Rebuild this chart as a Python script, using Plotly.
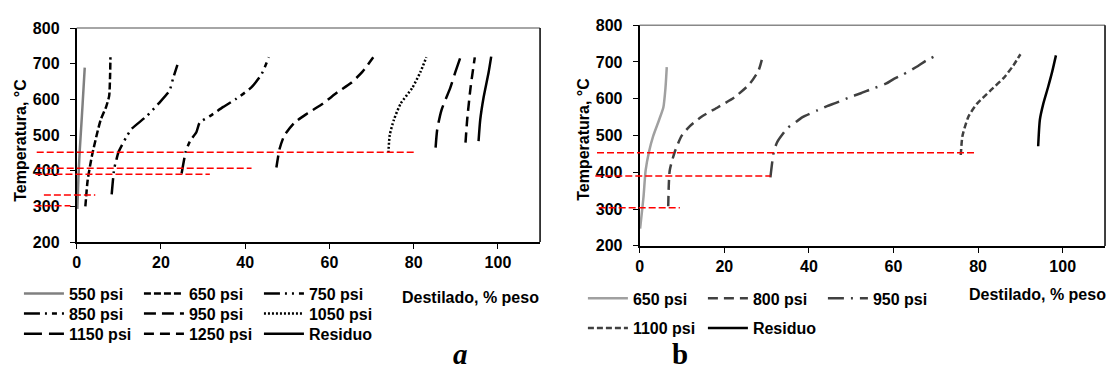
import plotly.graph_objects as go

# ---------------- data: panel a ----------------
a550_x = [0.15, 0.4, 0.7, 1.05, 1.4, 1.9]
a550_T = [293, 380, 454, 520, 588, 689]
a650_x = [2.05, 2.6, 3.6, 4.8, 5.7, 7.0, 7.7, 7.9, 8.0]
a650_T = [300, 374, 441, 503, 543, 580, 610, 660, 718]
a750_x = [8.3, 8.9, 9.4, 9.9, 11.9, 13.0, 16.6, 19.4, 22.0, 22.9, 23.9]
a750_T = [334, 406, 430, 452, 497, 517, 553, 588, 624, 660, 697]
a850_x = [24.9, 25.9, 26.9, 28.4, 29.2, 31.6, 34.8, 37.9, 41.4, 43.8, 45.6]
a850_T = [392, 454, 483, 508, 535, 553, 579, 602, 633, 669, 718]
a950_x = [47.4, 48.2, 49.3, 51.7, 54.8, 58.4, 61.9, 65.1, 67.8, 70.4]
a950_T = [409, 463, 499, 535, 561, 588, 620, 646, 677, 718]
a1050_x = [74.0, 74.3, 75.3, 76.9, 79.7, 81.6, 83.0]
a1050_T = [450, 499, 543, 588, 633, 677, 718]
a1150_x = [85.2, 85.6, 86.6, 88.7, 89.9, 91.1]
a1150_T = [465, 517, 570, 633, 677, 718]
a1250_x = [92.3, 92.7, 93.5, 94.5]
a1250_T = [479, 543, 633, 718]
aRes_x = [95.4, 95.8, 96.6, 97.8, 98.4]
aRes_T = [483, 543, 606, 677, 720]

# red reference lines, panel a (temperature, start %, end %)
refA_T = [452, 407, 390, 332, 302]
refA_x0 = [-9.5, -9.5, -9.8, -7.8, -10.0]
refA_x1 = [80.0, 41.5, 31.6, 4.4, -1.5]

# ---------------- data: panel b ----------------
b650_x = [0.1, 0.9, 1.4, 2.2, 3.2, 4.6, 5.6, 6.1, 6.4]
b650_T = [247, 333, 405, 456, 499, 543, 577, 630, 686]
b800_x = [6.75, 7.1, 8.3, 9.9, 11.8, 14.6, 18.5, 22.4, 25.9, 28.1, 29.2]
b800_T = [308, 405, 456, 499, 525, 551, 577, 604, 639, 677, 721]
b950_x = [30.9, 31.7, 32.5, 35.0, 36.6, 38.5, 42.1, 44.3, 46.4, 50.1, 52.3,
          54.5, 58.2, 60.1, 62.3, 65.8, 67.6, 69.8]
b950_T = [386, 456, 482, 521, 534, 550, 569, 580, 589, 606, 615,
          625, 641, 654, 666, 689, 703, 716]
b1100_x = [75.9, 76.3, 77.7, 79.7, 82.8, 86.0, 88.3, 90.0]
b1100_T = [447, 499, 551, 586, 621, 656, 690, 721]
bRes_x = [94.2, 94.6, 95.4, 96.5, 97.5, 98.4]
bRes_T = [471, 543, 586, 630, 673, 718]

refB_T = [453, 390, 303.5]
refB_x0 = [-10.1, -10.5, -9.7]
refB_x1 = [79.1, 30.9, 9.5]

x_ticks = [0, 20, 40, 60, 80, 100]
y_ticks = [200, 300, 400, 500, 600, 700, 800]
X_RANGE = [0, 110]
Y_RANGE = [200, 800]

W, H = 1109, 381
FONT = "Liberation Sans, Arial, sans-serif"
FS = 16

domA_x = [73 / W, 538 / W]
domA_y = [(H - 245) / H, (H - 21) / H]
domB_x = [638 / W, 1105 / W]
domB_y = [(H - 249) / H, (H - 18) / H]

fig = go.Figure()

seriesA = [
    ("550 psi", a550_x, a550_T, "#808080", "solid", "legend"),
    ("650 psi", a650_x, a650_T, "black", "7px,3px", "legend"),
    ("750 psi", a750_x, a750_T, "black", "16px,5px,2px,5px,2px,5px", "legend"),
    ("850 psi", a850_x, a850_T, "black", "16px,5px,2px,5px,5px,5px", "legend2"),
    ("950 psi", a950_x, a950_T, "black", "12px,6px", "legend2"),
    ("1050 psi", a1050_x, a1050_T, "black", "2px,2px", "legend2"),
    ("1150 psi", a1150_x, a1150_T, "black", "18px,7px", "legend3"),
    ("1250 psi", a1250_x, a1250_T, "black", "10px,6px", "legend3"),
    ("Residuo", aRes_x, aRes_T, "black", "solid", "legend3"),
]
for name, xs, ys, col, dash, lg in seriesA:
    fig.add_trace(go.Scatter(x=xs, y=ys, name=name, mode="lines",
                             line=dict(color=col, width=2.5, dash=dash, shape="spline", smoothing=0.6),
                             xaxis="x", yaxis="y", legend=lg))

seriesB = [
    ("650 psi", b650_x, b650_T, "#a0a0a0", "solid", "legend4"),
    ("800 psi", b800_x, b800_T, "#404040", "10px,6px", "legend4"),
    ("950 psi", b950_x, b950_T, "#404040", "16px,7px,2px,7px", "legend4"),
    ("1100 psi", b1100_x, b1100_T, "#404040", "6px,3px", "legend5"),
    ("Residuo", bRes_x, bRes_T, "black", "solid", "legend5"),
]
for name, xs, ys, col, dash, lg in seriesB:
    fig.add_trace(go.Scatter(x=xs, y=ys, name=name, mode="lines",
                             line=dict(color=col, width=2.5, dash=dash, shape="spline", smoothing=0.6),
                             xaxis="x2", yaxis="y2", legend=lg))


def xpaper(v, dom):
    return dom[0] + (v - X_RANGE[0]) / (X_RANGE[1] - X_RANGE[0]) * (dom[1] - dom[0])


shapes = []
for T, x0, x1 in zip(refA_T, refA_x0, refA_x1):
    shapes.append(dict(type="line", xref="paper", yref="y", x0=xpaper(x0, domA_x), x1=xpaper(x1, domA_x),
                       y0=T, y1=T, line=dict(color="red", width=1.5, dash="7px,3px")))
for T, x0, x1 in zip(refB_T, refB_x0, refB_x1):
    shapes.append(dict(type="line", xref="paper", yref="y2", x0=xpaper(x0, domB_x), x1=xpaper(x1, domB_x),
                       y0=T, y1=T, line=dict(color="red", width=1.5, dash="7px,3px")))
# frame: top (gray) and right (black) borders
for xd, yd in (("x domain", "y domain"), ("x2 domain", "y2 domain")):
    shapes.append(dict(type="line", xref=xd, yref=yd, x0=0, x1=1, y0=1, y1=1,
                       line=dict(color="#888888", width=1.5)))
    shapes.append(dict(type="line", xref=xd, yref=yd, x0=1, x1=1, y0=0, y1=1,
                       line=dict(color="black", width=1.5)))

tickfont = dict(family=FONT, size=FS, color="black", weight="bold")
axis_common = dict(showgrid=False, zeroline=False, showline=True, linecolor="black", linewidth=2,
                   ticks="outside", ticklen=5, tickcolor="black", tickwidth=1, tickfont=tickfont)

legfont = dict(family=FONT, size=FS, color="black", weight="bold")


def leg(xpx, ypx):
    return dict(orientation="h", x=xpx / W, y=(H - ypx) / H, xanchor="left", yanchor="middle",
                font=legfont, itemwidth=40, entrywidth=65, entrywidthmode="pixels",
                bgcolor="rgba(0,0,0,0)", borderwidth=0, tracegroupgap=0, itemclick=False)


def ann(text, xpx, ypx, xanchor="center", yanchor="middle", angle=0, font=None):
    return dict(text=text, xref="paper", yref="paper", x=xpx / W, y=(H - ypx) / H,
                xanchor=xanchor, yanchor=yanchor, textangle=angle, showarrow=False,
                font=font or dict(family=FONT, size=FS, color="black", weight="bold"))


serif = dict(family="Liberation Serif, Times New Roman, serif", size=29, color="black")
annotations = [
    ann("Temperatura, °C", 17, 138, angle=-90),
    ann("Temperatura, °C", 582, 137, angle=-90),
    ann("Destilado, % peso", 539, 303, xanchor="right"),
    ann("Destilado, % peso", 1108, 300, xanchor="right"),
    ann("<b><i>a</i></b>", 458, 381, yanchor="bottom", font=serif),
    ann("<b>b</b>", 678, 381, yanchor="bottom", font=serif),
]

fig.update_layout(
    width=W, height=H, margin=dict(l=0, r=0, t=0, b=0),
    paper_bgcolor="white", plot_bgcolor="white",
    xaxis=dict(domain=domA_x, range=X_RANGE, tickvals=x_ticks, anchor="y", **axis_common),
    yaxis=dict(domain=domA_y, range=Y_RANGE, tickvals=y_ticks, anchor="x", ticklabelstandoff=7, **axis_common),
    xaxis2=dict(domain=domB_x, range=X_RANGE, tickvals=x_ticks, anchor="y2", **axis_common),
    yaxis2=dict(domain=domB_y, range=Y_RANGE, tickvals=y_ticks, anchor="x2", ticklabelstandoff=7, **axis_common),
    shapes=shapes, annotations=annotations,
    legend=leg(15, 299), legend2=leg(15, 320), legend3=leg(15, 341),
    legend4=leg(581, 304), legend5=leg(581, 335),
    showlegend=True,
)

fig.write_html("out.html")
